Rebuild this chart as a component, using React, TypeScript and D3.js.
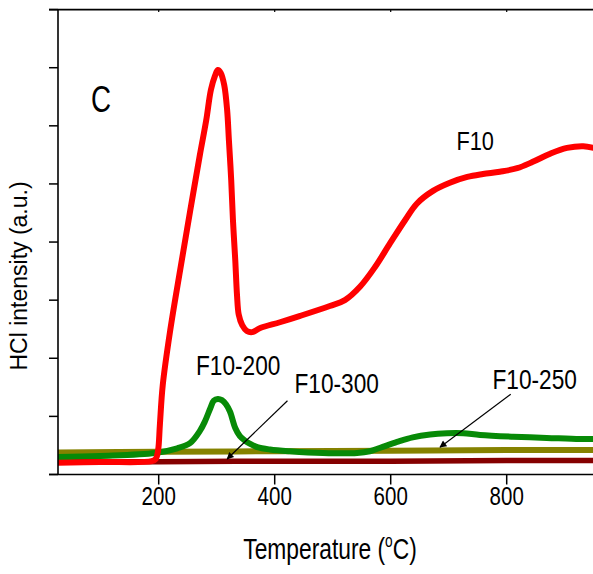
import React from "react";
import * as d3 from "d3";

// Temperature (°C) and HCl intensity (a.u.)
const f10T = [26, 99, 188, 195, 199, 202, 207, 220, 237, 254, 271, 282, 290, 297, 302, 307, 313, 318, 321, 325, 328, 332, 335, 338, 344, 352, 361, 375, 409, 444, 495, 521, 547, 573, 599, 625, 645, 673, 702, 732, 759, 788, 818, 845, 875, 904, 932, 950];
const f10V = [0.2, 0.215, 0.23, 0.27, 0.42, 0.85, 1.54, 2.49, 3.52, 4.52, 5.5, 6.1, 6.62, 6.86, 6.96, 6.91, 6.7, 6.27, 5.76, 5.07, 4.38, 3.69, 3.09, 2.75, 2.57, 2.47, 2.45, 2.52, 2.62, 2.73, 2.9, 3.0, 3.23, 3.57, 3.98, 4.38, 4.66, 4.88, 5.02, 5.12, 5.17, 5.21, 5.27, 5.38, 5.52, 5.62, 5.65, 5.62];

const f200T = [26, 99, 194, 232, 254, 271, 280, 289, 295, 302, 309, 316, 323, 332, 340, 349, 357, 370, 392, 426, 483, 542, 564, 582, 611, 638, 668, 697, 725, 754, 811, 869, 926, 950];
const f200V = [0.3, 0.32, 0.37, 0.45, 0.54, 0.75, 0.92, 1.14, 1.27, 1.3, 1.28, 1.21, 1.08, 0.8, 0.66, 0.58, 0.53, 0.47, 0.43, 0.4, 0.37, 0.37, 0.4, 0.46, 0.56, 0.64, 0.69, 0.71, 0.71, 0.68, 0.65, 0.63, 0.61, 0.61];

const f250T = [26, 200, 400, 600, 800, 950];
const f250V = [0.38, 0.39, 0.4, 0.41, 0.42, 0.42];

const f300T = [26, 200, 400, 600, 800, 950];
const f300V = [0.22, 0.22, 0.23, 0.23, 0.24, 0.24];

const xTicks = [200, 400, 600, 800];
const yTicks = [0, 1, 2, 3, 4, 5, 6, 7, 8];

const W = 593;
const H = 574;
const left = 58;
const bottom = 474.5;

const x = d3.scaleLinear().domain([0, 1000]).range([42.7, 622.7]);
const y = d3.scaleLinear().domain([0, 8]).range([474.5, 9.6]);

const line = d3
  .line<[number, number]>()
  .x((d) => x(d[0]))
  .y((d) => y(d[1]))
  .curve(d3.curveCatmullRom.alpha(0.5));

const zip = (a: number[], b: number[]) => a.map((t, i) => [t, b[i]] as [number, number]);

const FONT = "'Liberation Sans', Arial, sans-serif";

const series = [
  { t: f250T, v: f250V, color: "#858200", w: 6 },
  { t: f300T, v: f300V, color: "#850000", w: 5.5 },
  { t: f200T, v: f200V, color: "#078a07", w: 6 },
  { t: f10T, v: f10V, color: "#ff0000", w: 6 },
];

function Label({ px, py, sx, size, children, anchor = "start" }: any) {
  return (
    <text
      transform={`translate(${px},${py}) scale(${sx},1)`}
      fontSize={size}
      fontFamily={FONT}
      textAnchor={anchor}
      fill="#000"
    >
      {children}
    </text>
  );
}

export default function App() {
  const right = W + 10;
  return (
    <svg
      width={W}
      height={H}
      style={{ position: "absolute", left: 0, top: 0, background: "#fff" }}
    >
      <defs>
        <clipPath id="plot">
          <rect x={left} y={9.6} width={right - left} height={bottom - 9.6} />
        </clipPath>
        <marker id="arr" viewBox="0 0 10 10" refX="9" refY="5" markerWidth="9" markerHeight="7" orient="auto" markerUnits="userSpaceOnUse">
          <path d="M0,0 L10,5 L0,10 z" fill="#000" />
        </marker>
      </defs>
      <rect x={0} y={0} width={W} height={H} fill="#fff" />

      <g clipPath="url(#plot)">
        {series.map((s, i) => (
          <path
            key={i}
            d={line(zip(s.t, s.v)) || ""}
            fill="none"
            stroke={s.color}
            strokeWidth={s.w}
            strokeLinejoin="round"
          />
        ))}
      </g>

      {/* axes */}
      <line x1={left} y1={y(8)} x2={left} y2={bottom} stroke="#000" strokeWidth={1.6} />
      <line x1={left - 9} y1={bottom} x2={right} y2={bottom} stroke="#000" strokeWidth={1.6} />
      <line x1={left - 9} y1={y(8)} x2={right} y2={y(8)} stroke="#000" strokeWidth={1.6} />
      {yTicks.map((t) => (
        <line key={"y" + t} x1={left - 9} x2={left} y1={y(t)} y2={y(t)} stroke="#000" strokeWidth={1.5} />
      ))}
      {xTicks.map((t) => (
        <g key={"x" + t}>
          <line x1={x(t)} x2={x(t)} y1={bottom} y2={bottom + 10} stroke="#000" strokeWidth={1.5} />
          <line x1={x(t)} x2={x(t)} y1={y(8)} y2={y(8) + 2.5} stroke="#000" strokeWidth={1.2} />
          <Label px={x(t)} py={505} sx={0.82} size={25} anchor="middle">
            {t}
          </Label>
        </g>
      ))}

      <Label px={330} py={559} sx={0.76} size={30} anchor="middle">
        Temperature (<tspan fontSize={18} dy={-12}>o</tspan>
        <tspan dy={12}>C)</tspan>
      </Label>

      <text
        transform={`translate(27,276) rotate(-90)`}
        fontSize={23}
        fontFamily={FONT}
        textAnchor="middle"
        fill="#000"
      >
        HCl intensity (a.u.)
      </text>

      <Label px={91} py={111.5} sx={0.75} size={37}>
        C
      </Label>
      <Label px={456.5} py={150} sx={0.87} size={25}>
        F10
      </Label>
      <Label px={196} py={375} sx={0.84} size={27}>
        F10-200
      </Label>
      <Label px={294.5} py={393.3} sx={0.84} size={27}>
        F10-300
      </Label>
      <Label px={492.5} py={389.3} sx={0.84} size={27}>
        F10-250
      </Label>

      <line x1={x(422)} y1={y(1.27)} x2={x(318)} y2={y(0.267)} stroke="#000" strokeWidth={1.2} markerEnd="url(#arr)" />
      <line x1={x(807)} y1={y(1.38)} x2={x(685)} y2={y(0.47)} stroke="#000" strokeWidth={1.2} markerEnd="url(#arr)" />
    </svg>
  );
}
